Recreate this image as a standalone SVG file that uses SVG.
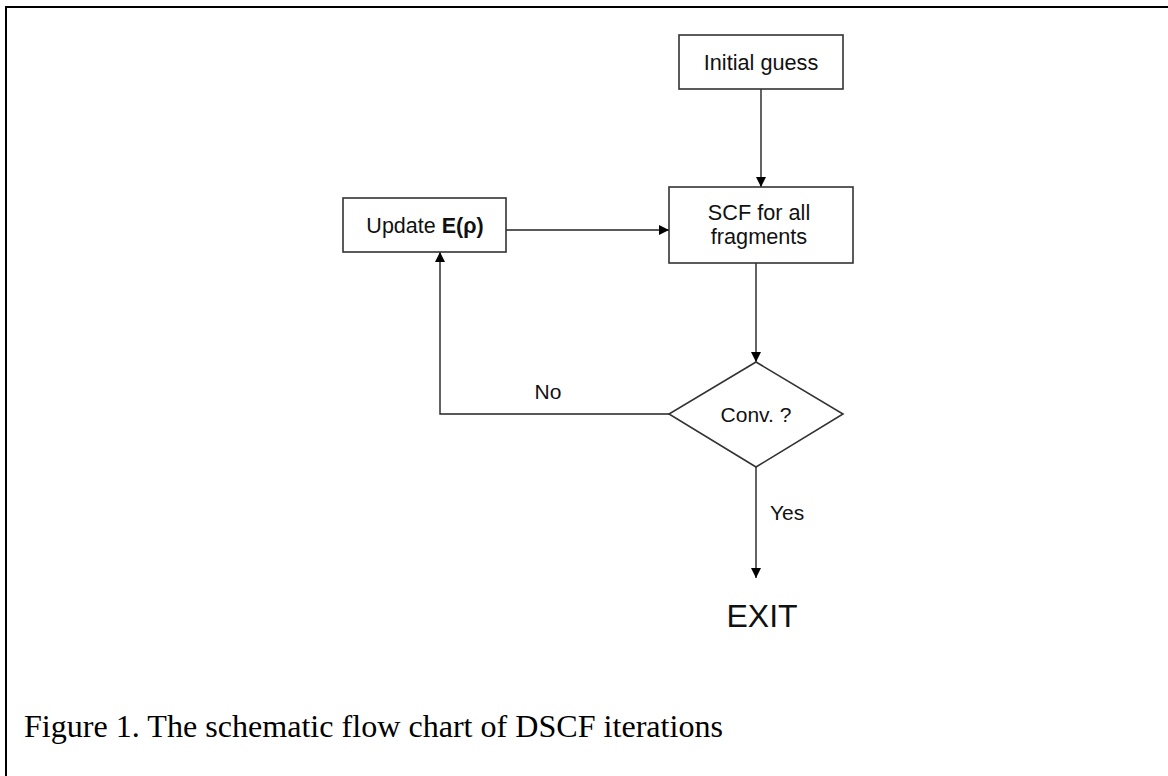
<svg xmlns="http://www.w3.org/2000/svg" width="1168" height="776" viewBox="0 0 1168 776">
<style>
.box{fill:#fff;stroke:#333;stroke-width:1.6}
.lbl{font-family:"Liberation Sans",Arial,sans-serif;fill:#111;text-anchor:middle}
.ln{fill:none;stroke:#222;stroke-width:1.4}
.cap{font-family:"Liberation Serif","Times New Roman",serif;fill:#000;font-size:32px}
</style>
<defs>
<marker id="ah" viewBox="0 0 10 10" refX="10" refY="5" markerWidth="10" markerHeight="10" markerUnits="userSpaceOnUse" orient="auto">
<path d="M0,0 L10,5 L0,10 Z" fill="#000"/>
</marker>
</defs>
<rect width="1168" height="776" fill="#fff"/>
<g id="frame">
<path d="M6,776 V7 H1168" fill="none" stroke="#000" stroke-width="2"/>
</g>
<g id="connectors">
<path class="ln" d="M761,89 V187" marker-end="url(#ah)"/>
<path class="ln" d="M506,230 H669" marker-end="url(#ah)"/>
<path class="ln" d="M756,263 V362" marker-end="url(#ah)"/>
<path class="ln" d="M669,414 H440 V252" marker-end="url(#ah)"/>
<path class="ln" d="M756,467 V578" marker-end="url(#ah)"/>
<text class="lbl" x="548" y="399" font-size="21">No</text>
<text class="lbl" x="770" y="520" font-size="21" style="text-anchor:start">Yes</text>
</g>
<g id="initial">
<rect class="box" x="679" y="35" width="164" height="54"/>
<text class="lbl" x="761" y="70" font-size="21.7">Initial guess</text>
</g>
<g id="scf">
<rect class="box" x="669" y="187" width="184" height="76"/>
<text class="lbl" x="759" y="220" font-size="21.7">SCF for all</text>
<text class="lbl" x="759" y="244" font-size="21.7">fragments</text>
</g>
<g id="update">
<rect class="box" x="343" y="198" width="163" height="54"/>
<text class="lbl" x="425" y="233" font-size="21.5">Update <tspan font-weight="bold">E(ρ)</tspan></text>
</g>
<g id="conv">
<polygon class="box" points="756,362 843,414 756,467 669,414"/>
<text class="lbl" x="756" y="422" font-size="21">Conv. ?</text>
</g>
<g id="exit">
<text class="lbl" x="762" y="627" font-size="32">EXIT</text>
</g>
<text class="cap" x="24" y="737" textLength="699" lengthAdjust="spacingAndGlyphs">Figure 1. The schematic flow chart of DSCF iterations</text>
</svg>
